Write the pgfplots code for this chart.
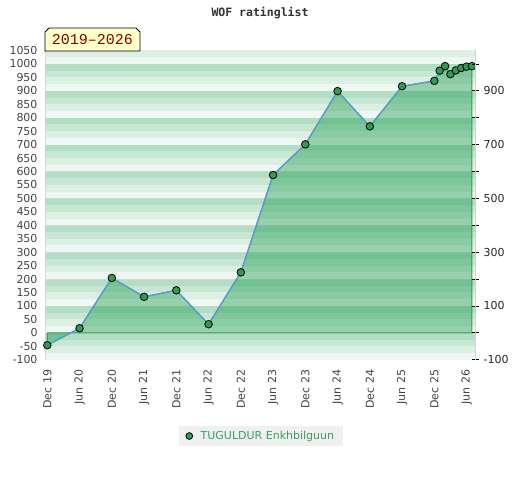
\documentclass[border=0pt]{standalone}
\usepackage{pgfplots}
\pgfplotsset{compat=1.18}
\usepackage{fontspec}
\setmainfont{DejaVu Sans}
\newfontfamily\yearfont{Liberation Mono}
\newfontfamily\titlefont{DejaVu Sans Mono}
\definecolor{sA}{RGB}{178,222,196}
\definecolor{sB}{RGB}{199,231,212}
\definecolor{sC}{RGB}{219,239,227}
\definecolor{sD}{RGB}{238,247,241}
\definecolor{sep}{RGB}{214,214,214}
\definecolor{framegray}{RGB}{210,210,210}
\definecolor{fillgreen}{RGB}{20,150,70}
\definecolor{edgegreen}{RGB}{58,154,85}
\definecolor{lineblue}{RGB}{91,155,213}
\definecolor{markgreen}{RGB}{45,155,85}
\definecolor{legendbg}{RGB}{240,240,240}
\definecolor{legendgreen}{RGB}{58,163,90}
\definecolor{yearred}{RGB}{139,0,0}
\definecolor{yearbg}{RGB}{255,255,204}
\definecolor{ticktext}{RGB}{68,68,68}
\begin{document}
\begin{tikzpicture}[x=1pt,y=1pt]
\useasboundingbox (0,0) rectangle (520,480);
\begin{axis}[
  at={(45.7pt,120.3pt)}, anchor=south west,
  scale only axis, width=429.3pt, height=309.2pt,
  xmin=-0.3, xmax=79.57, ymin=-100, ymax=1050,
  axis line style={draw=framegray, line width=1pt},
  xtick={0,6,...,78},
  xticklabels={Dec 19,Jun 20,Dec 20,Jun 21,Dec 21,Jun 22,Dec 22,Jun 23,Dec 23,Jun 24,Dec 24,Jun 25,Dec 25,Jun 26},
  ytick={-100,-50,...,1050},
  major tick length=0pt,
  /pgf/number format/assume math mode=true,
  /pgf/number format/1000 sep={},
  scaled y ticks=false,
  ticklabel style={font=\fontsize{11}{13}\selectfont, text=ticktext},
  xticklabel style={rotate=90, anchor=east, inner sep=0pt},
  xticklabel shift=10pt,
  yticklabel style={anchor=east, inner sep=0pt},
  yticklabel shift=8pt,
  legend style={at={(0.5015,-0.2468)}, anchor=center, fill=legendbg, draw=none,
    font=\fontsize{11}{13}\selectfont, inner xsep=7pt, inner ysep=3.5pt,
    /tikz/every odd column/.append style={column sep=6pt}},
  legend image code/.code={\draw[mark=*, mark size=3.4pt, mark options={fill=markgreen, draw=black, line width=0.8pt}] plot coordinates {(0pt,0pt)};},
]
\pgfplotsinvokeforeach{-1,0,...,10}{
  \fill[sA] (axis cs:-1,{#1*100+75}) rectangle (axis cs:81,{#1*100+100});
  \fill[sB] (axis cs:-1,{#1*100+50}) rectangle (axis cs:81,{#1*100+75});
  \fill[sC] (axis cs:-1,{#1*100+25}) rectangle (axis cs:81,{#1*100+50});
  \fill[sD] (axis cs:-1,{#1*100}) rectangle (axis cs:81,{#1*100+25});
  \draw[sep, line width=1pt] (axis cs:-1,{#1*100+100}) -- (axis cs:81,{#1*100+100});
}
\addplot[forget plot, draw=edgegreen, line width=1pt, fill=fillgreen, fill opacity=0.4] coordinates {
(0,-46) (6,17) (12,204) (18,134) (24,158) (30,32) (36,225) (42,587) (48,701) (54,899) (60,768) (66,917) (72,937) (73,975) (74,992) (75,962) (76,976) (77,985) (78,990) (79,992)
} \closedcycle;
\addplot[forget plot, color=lineblue, line width=1.3pt] coordinates {
(0,-46) (6,17) (12,204) (18,134) (24,158) (30,32) (36,225) (42,587) (48,701) (54,899) (60,768) (66,917) (72,937) (73,975) (74,992) (75,962) (76,976) (77,985) (78,990) (79,992)
};
\addplot[only marks, mark=*, mark size=3.8pt, mark options={fill=markgreen, draw=black, line width=0.8pt}] coordinates {
(0,-46) (6,17) (12,204) (18,134) (24,158) (30,32) (36,225) (42,587) (48,701) (54,899) (60,768) (66,917) (72,937) (73,975) (74,992) (75,962) (76,976) (77,985) (78,990) (79,992)
};
\addlegendentry{\textcolor{legendgreen}{TUGULDUR Enkhbilguun}}
\end{axis}
\begin{axis}[
  at={(45.7pt,120.3pt)}, anchor=south west,
  scale only axis, width=429.3pt, height=309.2pt,
  xmin=-0.3, xmax=79.57, ymin=-100, ymax=1050,
  axis x line=none, axis y line*=right,
  axis line style={draw=framegray, line width=1pt},
  ytick={-100,0,...,1000},
  yticklabels={-100,,100,,300,,500,,700,,900,},
  tick align=center, major tick length=7pt,
  tick style={black, line width=0.8pt},
  /pgf/number format/assume math mode=true,
  ticklabel style={font=\fontsize{11}{13}\selectfont, text=black!85},
  yticklabel style={anchor=west, inner sep=0pt},
  yticklabel shift=5pt,
]
\end{axis}
\draw[black, line width=0.8pt, fill=yearbg] (45,429) -- (45,448) -- (49,452) -- (136,452) -- (140,448) -- (140,429) -- cycle;
\node[text=yearred, font=\yearfont\fontsize{15}{17}\selectfont] at (92.5,440) {2019–2026};
\node[text=black!80, font=\titlefont\bfseries\fontsize{11.5}{13}\selectfont] at (260,467) {WOF ratinglist};
\end{tikzpicture}
\end{document}
